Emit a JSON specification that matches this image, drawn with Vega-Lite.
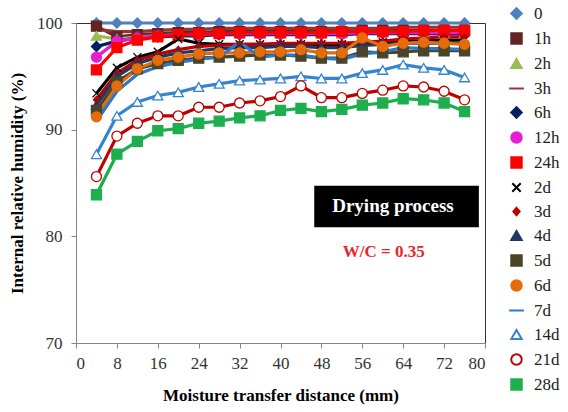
{
  "$schema": "https://vega.github.io/schema/vega-lite/v6.json",
  "width": 409,
  "height": 320,
  "autosize": {"type": "none"},
  "padding": {"left": 76, "top": 23, "right": 83, "bottom": 69},
  "background": "white",
  "config": {
    "view": {"stroke": "#333333", "strokeWidth": 1},
    "font": "Liberation Serif",
    "axis": {"grid": false, "domainColor": "#868686", "tickColor": "#868686", "tickSize": 5, "labelFont": "Liberation Serif", "labelFontSize": 17, "labelColor": "#333333", "titleFont": "Liberation Serif", "titleFontSize": 17, "titleFontWeight": "bold", "titleColor": "#000000"},
    "legend": {"labelFont": "Liberation Serif"}
  },
  "datasets": {
    "d": [
      {"s":"0","x":4,"y":100},{"s":"0","x":8,"y":100},{"s":"0","x":12,"y":100},{"s":"0","x":16,"y":100},{"s":"0","x":20,"y":100},{"s":"0","x":24,"y":100},{"s":"0","x":28,"y":100},{"s":"0","x":32,"y":100},{"s":"0","x":36,"y":100},{"s":"0","x":40,"y":100},{"s":"0","x":44,"y":100},{"s":"0","x":48,"y":100},{"s":"0","x":52,"y":100},{"s":"0","x":56,"y":100},{"s":"0","x":60,"y":100},{"s":"0","x":64,"y":100},{"s":"0","x":68,"y":100},{"s":"0","x":72,"y":100},{"s":"0","x":76,"y":100},
      {"s":"1h","x":4,"y":99.7},{"s":"1h","x":8,"y":98.7},{"s":"1h","x":12,"y":98.9},{"s":"1h","x":16,"y":99.0},{"s":"1h","x":20,"y":99.1},{"s":"1h","x":24,"y":99.1},{"s":"1h","x":28,"y":99.2},{"s":"1h","x":32,"y":99.2},{"s":"1h","x":36,"y":99.2},{"s":"1h","x":40,"y":99.2},{"s":"1h","x":44,"y":99.2},{"s":"1h","x":48,"y":99.2},{"s":"1h","x":52,"y":99.2},{"s":"1h","x":56,"y":99.3},{"s":"1h","x":60,"y":99.3},{"s":"1h","x":64,"y":99.3},{"s":"1h","x":68,"y":99.3},{"s":"1h","x":72,"y":99.3},{"s":"1h","x":76,"y":99.3},
      {"s":"2h","x":4,"y":98.8},{"s":"2h","x":8,"y":98.5},{"s":"2h","x":12,"y":98.7},{"s":"2h","x":16,"y":98.8},{"s":"2h","x":20,"y":98.9},{"s":"2h","x":24,"y":98.9},{"s":"2h","x":28,"y":99.0},{"s":"2h","x":32,"y":99.0},{"s":"2h","x":36,"y":99.0},{"s":"2h","x":40,"y":99.0},{"s":"2h","x":44,"y":99.0},{"s":"2h","x":48,"y":99.0},{"s":"2h","x":52,"y":99.0},{"s":"2h","x":56,"y":99.1},{"s":"2h","x":60,"y":99.1},{"s":"2h","x":64,"y":99.1},{"s":"2h","x":68,"y":99.1},{"s":"2h","x":72,"y":99.1},{"s":"2h","x":76,"y":99.1},
      {"s":"3h","x":4,"y":99.4},{"s":"3h","x":8,"y":99.2},{"s":"3h","x":12,"y":99.2},{"s":"3h","x":16,"y":99.3},{"s":"3h","x":20,"y":99.4},{"s":"3h","x":24,"y":99.4},{"s":"3h","x":28,"y":99.5},{"s":"3h","x":32,"y":99.5},{"s":"3h","x":36,"y":99.5},{"s":"3h","x":40,"y":99.5},{"s":"3h","x":44,"y":99.5},{"s":"3h","x":48,"y":99.5},{"s":"3h","x":52,"y":99.5},{"s":"3h","x":56,"y":99.5},{"s":"3h","x":60,"y":99.5},{"s":"3h","x":64,"y":99.6},{"s":"3h","x":68,"y":99.6},{"s":"3h","x":72,"y":99.6},{"s":"3h","x":76,"y":99.6},
      {"s":"6h","x":4,"y":97.8},{"s":"6h","x":8,"y":98.3},{"s":"6h","x":12,"y":98.6},{"s":"6h","x":16,"y":98.7},{"s":"6h","x":20,"y":98.8},{"s":"6h","x":24,"y":98.8},{"s":"6h","x":28,"y":98.9},{"s":"6h","x":32,"y":98.9},{"s":"6h","x":36,"y":98.9},{"s":"6h","x":40,"y":98.9},{"s":"6h","x":44,"y":98.9},{"s":"6h","x":48,"y":98.9},{"s":"6h","x":52,"y":98.9},{"s":"6h","x":56,"y":99.0},{"s":"6h","x":60,"y":99.0},{"s":"6h","x":64,"y":99.0},{"s":"6h","x":68,"y":99.0},{"s":"6h","x":72,"y":99.0},{"s":"6h","x":76,"y":99.0},
      {"s":"12h","x":4,"y":96.8},{"s":"12h","x":8,"y":98.3},{"s":"12h","x":12,"y":98.6},{"s":"12h","x":16,"y":98.8},{"s":"12h","x":20,"y":98.9},{"s":"12h","x":24,"y":98.9},{"s":"12h","x":28,"y":99.0},{"s":"12h","x":32,"y":99.0},{"s":"12h","x":36,"y":99.0},{"s":"12h","x":40,"y":99.0},{"s":"12h","x":44,"y":99.0},{"s":"12h","x":48,"y":99.0},{"s":"12h","x":52,"y":99.0},{"s":"12h","x":56,"y":99.1},{"s":"12h","x":60,"y":99.1},{"s":"12h","x":64,"y":99.1},{"s":"12h","x":68,"y":99.1},{"s":"12h","x":72,"y":99.1},{"s":"12h","x":76,"y":99.1},
      {"s":"24h","x":4,"y":95.6},{"s":"24h","x":8,"y":97.7},{"s":"24h","x":12,"y":98.4},{"s":"24h","x":16,"y":98.7},{"s":"24h","x":20,"y":98.9},{"s":"24h","x":24,"y":99.0},{"s":"24h","x":28,"y":99.0},{"s":"24h","x":32,"y":99.1},{"s":"24h","x":36,"y":99.1},{"s":"24h","x":40,"y":99.1},{"s":"24h","x":44,"y":99.1},{"s":"24h","x":48,"y":99.1},{"s":"24h","x":52,"y":99.2},{"s":"24h","x":56,"y":99.2},{"s":"24h","x":60,"y":99.2},{"s":"24h","x":64,"y":99.2},{"s":"24h","x":68,"y":99.3},{"s":"24h","x":72,"y":99.3},{"s":"24h","x":76,"y":99.3},
      {"s":"2d","x":4,"y":93.4},{"s":"2d","x":8,"y":95.8},{"s":"2d","x":12,"y":96.8},{"s":"2d","x":16,"y":97.3},{"s":"2d","x":20,"y":98.5},{"s":"2d","x":24,"y":98.1},{"s":"2d","x":28,"y":98.0},{"s":"2d","x":32,"y":98.0},{"s":"2d","x":36,"y":98.0},{"s":"2d","x":40,"y":98.0},{"s":"2d","x":44,"y":98.0},{"s":"2d","x":48,"y":98.0},{"s":"2d","x":52,"y":98.0},{"s":"2d","x":56,"y":98.1},{"s":"2d","x":60,"y":98.2},{"s":"2d","x":64,"y":98.3},{"s":"2d","x":68,"y":98.3},{"s":"2d","x":72,"y":98.4},{"s":"2d","x":76,"y":98.4},
      {"s":"3d","x":4,"y":92.8},{"s":"3d","x":8,"y":95.3},{"s":"3d","x":12,"y":96.5},{"s":"3d","x":16,"y":97.1},{"s":"3d","x":20,"y":97.5},{"s":"3d","x":24,"y":97.8},{"s":"3d","x":28,"y":97.9},{"s":"3d","x":32,"y":98.0},{"s":"3d","x":36,"y":98.0},{"s":"3d","x":40,"y":98.1},{"s":"3d","x":44,"y":98.1},{"s":"3d","x":48,"y":98.1},{"s":"3d","x":52,"y":98.1},{"s":"3d","x":56,"y":98.2},{"s":"3d","x":60,"y":98.3},{"s":"3d","x":64,"y":98.5},{"s":"3d","x":68,"y":98.6},{"s":"3d","x":72,"y":98.7},{"s":"3d","x":76,"y":98.7},
      {"s":"4d","x":4,"y":92.3},{"s":"4d","x":8,"y":95.0},{"s":"4d","x":12,"y":96.2},{"s":"4d","x":16,"y":96.8},{"s":"4d","x":20,"y":97.2},{"s":"4d","x":24,"y":97.4},{"s":"4d","x":28,"y":97.6},{"s":"4d","x":32,"y":97.7},{"s":"4d","x":36,"y":97.7},{"s":"4d","x":40,"y":97.8},{"s":"4d","x":44,"y":97.8},{"s":"4d","x":48,"y":97.7},{"s":"4d","x":52,"y":97.7},{"s":"4d","x":56,"y":97.9},{"s":"4d","x":60,"y":98.0},{"s":"4d","x":64,"y":98.1},{"s":"4d","x":68,"y":98.1},{"s":"4d","x":72,"y":98.1},{"s":"4d","x":76,"y":98.1},
      {"s":"5d","x":4,"y":91.8},{"s":"5d","x":8,"y":94.5},{"s":"5d","x":12,"y":95.7},{"s":"5d","x":16,"y":96.2},{"s":"5d","x":20,"y":96.5},{"s":"5d","x":24,"y":96.7},{"s":"5d","x":28,"y":96.8},{"s":"5d","x":32,"y":96.9},{"s":"5d","x":36,"y":97.0},{"s":"5d","x":40,"y":97.0},{"s":"5d","x":44,"y":96.9},{"s":"5d","x":48,"y":96.7},{"s":"5d","x":52,"y":96.7},{"s":"5d","x":56,"y":97.3},{"s":"5d","x":60,"y":97.2},{"s":"5d","x":64,"y":97.3},{"s":"5d","x":68,"y":97.4},{"s":"5d","x":72,"y":97.4},{"s":"5d","x":76,"y":97.4},
      {"s":"6d","x":4,"y":91.2},{"s":"6d","x":8,"y":94.1},{"s":"6d","x":12,"y":95.7},{"s":"6d","x":16,"y":96.5},{"s":"6d","x":20,"y":96.8},{"s":"6d","x":24,"y":97.1},{"s":"6d","x":28,"y":97.2},{"s":"6d","x":32,"y":97.2},{"s":"6d","x":36,"y":97.3},{"s":"6d","x":40,"y":97.3},{"s":"6d","x":44,"y":97.5},{"s":"6d","x":48,"y":97.2},{"s":"6d","x":52,"y":97.2},{"s":"6d","x":56,"y":98.6},{"s":"6d","x":60,"y":97.8},{"s":"6d","x":64,"y":98.1},{"s":"6d","x":68,"y":98.2},{"s":"6d","x":72,"y":98.1},{"s":"6d","x":76,"y":98.0},
      {"s":"7d","x":4,"y":90.8},{"s":"7d","x":8,"y":93.6},{"s":"7d","x":12,"y":95.2},{"s":"7d","x":16,"y":95.9},{"s":"7d","x":20,"y":96.3},{"s":"7d","x":24,"y":96.6},{"s":"7d","x":28,"y":96.8},{"s":"7d","x":32,"y":98.2},{"s":"7d","x":36,"y":96.8},{"s":"7d","x":40,"y":97.0},{"s":"7d","x":44,"y":97.0},{"s":"7d","x":48,"y":96.7},{"s":"7d","x":52,"y":96.6},{"s":"7d","x":56,"y":97.1},{"s":"7d","x":60,"y":97.3},{"s":"7d","x":64,"y":97.7},{"s":"7d","x":68,"y":97.6},{"s":"7d","x":72,"y":97.6},{"s":"7d","x":76,"y":97.5},
      {"s":"14d","x":4,"y":87.7},{"s":"14d","x":8,"y":91.3},{"s":"14d","x":12,"y":92.6},{"s":"14d","x":16,"y":93.2},{"s":"14d","x":20,"y":93.5},{"s":"14d","x":24,"y":94.0},{"s":"14d","x":28,"y":94.3},{"s":"14d","x":32,"y":94.6},{"s":"14d","x":36,"y":94.7},{"s":"14d","x":40,"y":94.8},{"s":"14d","x":44,"y":95.0},{"s":"14d","x":48,"y":94.8},{"s":"14d","x":52,"y":94.8},{"s":"14d","x":56,"y":95.3},{"s":"14d","x":60,"y":95.6},{"s":"14d","x":64,"y":96.1},{"s":"14d","x":68,"y":95.8},{"s":"14d","x":72,"y":95.6},{"s":"14d","x":76,"y":94.9},
      {"s":"21d","x":4,"y":85.6},{"s":"21d","x":8,"y":89.4},{"s":"21d","x":12,"y":90.6},{"s":"21d","x":16,"y":91.3},{"s":"21d","x":20,"y":91.3},{"s":"21d","x":24,"y":92.1},{"s":"21d","x":28,"y":92.1},{"s":"21d","x":32,"y":92.5},{"s":"21d","x":36,"y":92.7},{"s":"21d","x":40,"y":93.1},{"s":"21d","x":44,"y":94.1},{"s":"21d","x":48,"y":93.0},{"s":"21d","x":52,"y":93.0},{"s":"21d","x":56,"y":93.4},{"s":"21d","x":60,"y":93.7},{"s":"21d","x":64,"y":94.1},{"s":"21d","x":68,"y":94.0},{"s":"21d","x":72,"y":93.6},{"s":"21d","x":76,"y":92.8},
      {"s":"28d","x":4,"y":83.9},{"s":"28d","x":8,"y":87.7},{"s":"28d","x":12,"y":88.9},{"s":"28d","x":16,"y":89.9},{"s":"28d","x":20,"y":90.1},{"s":"28d","x":24,"y":90.6},{"s":"28d","x":28,"y":90.8},{"s":"28d","x":32,"y":91.1},{"s":"28d","x":36,"y":91.3},{"s":"28d","x":40,"y":91.8},{"s":"28d","x":44,"y":92.0},{"s":"28d","x":48,"y":91.7},{"s":"28d","x":52,"y":91.9},{"s":"28d","x":56,"y":92.3},{"s":"28d","x":60,"y":92.5},{"s":"28d","x":64,"y":92.9},{"s":"28d","x":68,"y":92.8},{"s":"28d","x":72,"y":92.5},{"s":"28d","x":76,"y":91.7}
    ]
  },
  "encoding": {
    "x": {"field": "x", "type": "quantitative", "scale": {"domain": [0, 80], "nice": false}, "axis": {"values": [0, 8, 16, 24, 32, 40, 48, 56, 64, 72, 80], "title": "Moisture transfer distance (mm)", "labelPadding": 7, "titlePadding": 16}},
    "y": {"field": "y", "type": "quantitative", "scale": {"domain": [70, 100], "nice": false, "zero": false}, "axis": {"values": [70, 80, 90, 100], "title": "Internal relative humidity (%)", "labelPadding": 9, "titlePadding": 10}}
  },
  "layer": [
    {
      "data": {"name": "d"},
      "encoding": {
        "stroke": {
          "field": "s", "type": "nominal",
          "scale": {
            "domain": ["0","1h","2h","3h","6h","12h","24h","2d","3d","4d","5d","6d","7d","14d","21d","28d"],
            "range": ["#4f81bd","#632523","#9bbb59","#943634","#002060","#e61ed2","#ff0000","#000000","#c00000","#1f3864","#4a452a","#e46c0a","#2e78c8","#3584d0","#c00000","#1fae4f"]
          },
          "legend": {
            "title": null, "orient": "none", "legendX": 432, "legendY": -18, "padding": 0,
            "symbolSize": 110, "symbolStrokeWidth": 2, "symbolLimit": 0,
            "labelFont": "Liberation Serif", "labelFontSize": 17, "labelColor": "#222222", "labelOffset": 9, "rowPadding": 6
          }
        }
      },
      "layer": [
        {"mark": {"type": "line", "strokeWidth": 3.2}},
        {
          "transform": [{"filter": "datum.s !== '3h' && datum.s !== '7d'"}],
          "mark": {"type": "point", "size": 100, "strokeWidth": 1.3, "opacity": 1},
          "encoding": {
            "fill": {
              "field": "s", "type": "nominal", "legend": null,
              "scale": {
                "domain": ["0","1h","2h","3h","6h","12h","24h","2d","3d","4d","5d","6d","7d","14d","21d","28d"],
                "range": ["#4f81bd","#632523","#9bbb59","#943634","#002060","#e61ed2","#ff0000","#000000","#c00000","#1f3864","#4a452a","#e46c0a","#2e78c8","#ffffff","#ffffff","#1fae4f"]
              }
            },
            "shape": {
              "field": "s", "type": "nominal", "legend": null,
              "scale": {
                "domain": ["0","1h","2h","3h","6h","12h","24h","2d","3d","4d","5d","6d","7d","14d","21d","28d"],
                "range": ["diamond","square","triangle-up","M-1.4,0H1.4","diamond","circle","square","M-0.8,-0.8L0.8,0.8M-0.8,0.8L0.8,-0.8","M0,-0.7L0.6,0L0,0.7L-0.6,0Z","triangle-up","square","circle","M-1.4,0H1.4","triangle-up","circle","square"]
              }
            }
          }
        }
      ]
    },
    {
      "data": {"values": [{"x": 46.6, "y": 84.75, "x2": 78.8, "y2": 80.85}]},
      "mark": {"type": "rect", "color": "#000000"},
      "encoding": {"x2": {"field": "x2"}, "y2": {"field": "y2"}}
    },
    {
      "data": {"values": [{"x": 62.0, "y": 82.8, "t": "Drying process"}]},
      "mark": {"type": "text", "color": "#ffffff", "font": "Liberation Serif", "fontSize": 19, "fontWeight": "bold", "align": "center", "baseline": "middle"},
      "encoding": {"text": {"field": "t"}}
    },
    {
      "data": {"values": [{"x": 60.2, "y": 78.5, "t": "W/C = 0.35"}]},
      "mark": {"type": "text", "color": "#e8262a", "font": "Liberation Serif", "fontSize": 17, "fontWeight": "bold", "align": "center", "baseline": "middle"},
      "encoding": {"text": {"field": "t"}}
    }
  ]
}
